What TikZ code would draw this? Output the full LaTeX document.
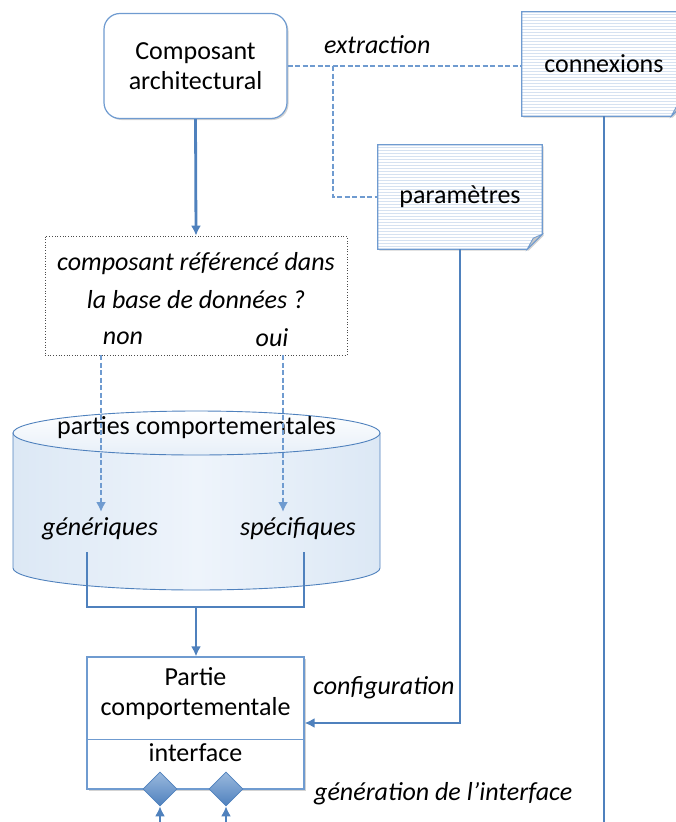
\documentclass[tikz,border=0pt]{standalone}
\usepackage{fontspec}
\setmainfont{Carlito}
\usetikzlibrary{arrows.meta,shadows,calc,backgrounds,shapes.geometric}

\definecolor{accent}{HTML}{4F81BD}
\definecolor{accentlight}{HTML}{6F9BD0}
\definecolor{noteline}{HTML}{D6E2F1}
\definecolor{cylfill}{HTML}{DCE8F5}
\definecolor{cylpale}{HTML}{EEF4FB}

\tikzset{
  txt/.style={font=\fontsize{26}{30}\selectfont, inner sep=0pt, align=center},
  itxt/.style={txt, font=\fontsize{26}{30}\selectfont\itshape},
  compbox/.style={draw=accentlight, line width=1.2pt, rounded corners=16pt, fill=white,
    drop shadow={opacity=0.35, shadow xshift=1.5pt, shadow yshift=-1.5pt},
    minimum width=183pt, minimum height=105pt, txt},
  notebox/.style={minimum width=164pt, minimum height=104pt, txt},
  decbox/.style={draw=black!70, line width=0.7pt, dotted, minimum width=302pt, minimum height=119pt},
  partbox/.style={draw=accentlight, line width=1.2pt, fill=white,
    drop shadow={opacity=0.35, shadow xshift=1.5pt, shadow yshift=-1.5pt},
    minimum width=217pt, minimum height=132pt},
  port/.style={diamond, minimum width=34pt, minimum height=34pt, inner sep=0pt,
    draw=accent, line width=0.6pt, top color=accentlight!70, bottom color=accent},
  flow/.style={draw=accent, line width=2.8pt},
  flowarrow/.style={flow, -{Latex[length=10pt,width=10pt]}},
  dashflow/.style={draw=accentlight, line width=2.8pt, dash pattern=on 5pt off 2.5pt},
  dasharrow/.style={dashflow, -{Latex[length=10pt,width=10pt]}},
}

% sheet of note paper behind a named node, with a folded lower right corner
\newcommand{\notesheet}[1]{%
  \begin{scope}[on background layer]
    \path[fill=white, drop shadow={opacity=0.35, shadow xshift=1.5pt, shadow yshift=-1.5pt}]
      (#1.north west) -- (#1.north east) -- ([yshift=15pt]#1.south east)
      -- ([xshift=-15pt]#1.south east) -- (#1.south west) -- cycle;
    \begin{scope}
      \clip (#1.north west) -- (#1.north east) -- ([yshift=15pt]#1.south east)
        -- ([xshift=-15pt]#1.south east) -- (#1.south west) -- cycle;
      \foreach \k in {1,...,35}
        \draw[noteline, line width=0.7pt] ([yshift={-\k*3pt}]#1.north west) -- ([yshift={-\k*3pt}]#1.north east);
    \end{scope}
    \draw[accentlight, line width=1.2pt]
      (#1.north west) -- (#1.north east) -- ([yshift=15pt]#1.south east)
      -- ([xshift=-15pt]#1.south east) -- (#1.south west) -- cycle;
    \draw[accentlight, line width=0.8pt, fill=black!22]
      ([yshift=15pt]#1.south east) -- ([xshift=-15pt]#1.south east)
      -- ([xshift=-9pt,yshift=11pt]#1.south east) -- cycle;
  \end{scope}}

\begin{document}
\begin{tikzpicture}[x=1pt, y=-1pt]
  \useasboundingbox (0,0) rectangle (675,822);
  \clip (0,0) rectangle (675,822);

  % database cylinder
  \path[left color=cylfill, right color=cylfill, middle color=cylpale, draw=accent, line width=0.9pt]
    (13,433) -- (13,568) arc[start angle=180, end angle=0, x radius=183.5, y radius=22]
    -- (380,433) -- cycle;
  \path[top color=white, bottom color=cylfill!70, draw=accent, line width=0.9pt]
    (196.5,433) ellipse[x radius=183.5, y radius=22];

  % nodes
  \node[compbox] (comp) at (195.5,66) {Composant\\architectural};
  \node[notebox] (conn) at (604,64) {connexions};
  \notesheet{conn}
  \node[notebox] (param) at (460,197) {paramètres};
  \notesheet{param}

  \node[decbox] (dec) at (196,295.5) {};
  \node[itxt] (q1) at (196,264) {composant référencé dans};
  \node[itxt] (q2) at (196,300) {la base de données ?};
  \node[itxt] (non) at (123,338) {non};
  \node[itxt] (oui) at (272,338) {oui};

  \node[txt] (parties) at (196.5,428) {parties comportementales};
  \node[itxt] (gen) at (100,529) {génériques};
  \node[itxt] (spec) at (298,529) {spécifiques};

  \node[partbox] (part) at (195.5,723) {};
  \node[txt] (parttxt) at (195.5,694) {Partie\\comportementale};
  \node[txt] (iface) at (195.5,753) {interface};
  \draw[accentlight, line width=1pt] (part.west |- 0,739) coordinate (divL) -- (part.east |- 0,739) coordinate (divR);
  \node[port] (d1) at (160,789) {};
  \node[port] (d2) at (226,789) {};

  \node[itxt, anchor=west] (extr) at (324,45) {extraction};
  \node[itxt, anchor=west] (config) at (313,688) {configuration};
  \node[itxt, anchor=west] (genif) at (314,794) {génération de l’interface};

  % extraction links
  \coordinate (split) at (333,66);
  \draw[dashflow] (comp.east) -- (conn.west |- comp.east);
  \draw[dashflow] (split) |- (param.west);

  % main flow
  \draw[flowarrow] (comp.south) -- (dec.north);
  \coordinate (nonS) at (101,355);
  \coordinate (nonT) at (101,512);
  \coordinate (ouiS) at (283,355);
  \coordinate (ouiT) at (283,512);
  \draw[dasharrow] (nonS) -- (nonT);
  \draw[dasharrow] (ouiS) -- (ouiT);

  \coordinate (genB) at (87,552);
  \coordinate (specB) at (304,552);
  \coordinate (joinL) at (87,607);
  \coordinate (joinR) at (304,607);
  \coordinate (joinM) at (196,607);
  \draw[flow] (genB) -- (joinL) -- (joinR) -- (specB);
  \draw[flowarrow] (joinM) -- (part.north -| joinM);

  \draw[flowarrow] (param.south) |- (part.east);
  \coordinate (connEnd) at (conn.south |- 0,822);
  \draw[flow] (conn.south) -- (connEnd);

  \coordinate (in1) at (160,822);
  \coordinate (in2) at (226,822);
  \draw[flowarrow] (in1) -- (d1.south);
  \draw[flowarrow] (in2) -- (d2.south);
\end{tikzpicture}
\end{document}
